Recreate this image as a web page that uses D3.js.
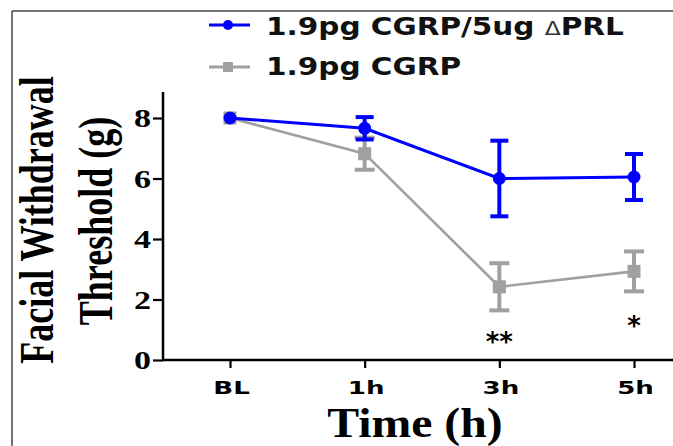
<!DOCTYPE html>
<html><head><meta charset="utf-8">
<script src="https://cdn.jsdelivr.net/npm/d3@7"></script>
<style>html,body{margin:0;padding:0;background:#fff;}svg{display:block;}</style>
</head><body>
<script>
const categories = ["BL", "1h", "3h", "5h"];
const prlMeans = [8.0, 7.66, 6.0, 6.05];
const prlErrors = [0, 0.37, 1.25, 0.76];
const cgrpMeans = [8.0, 6.82, 2.42, 2.93];
const cgrpErrors = [0, 0.53, 0.78, 0.66];
const yTicks = [0, 2, 4, 6, 8];
const seriesNames = [["1.9pg CGRP/5ug ", "\u0394", "PRL"], ["1.9pg CGRP"]];
const annotations = [{cat: "3h", label: "**", value: 0.73}, {cat: "5h", label: "*", value: 1.26}];

const W = 673, H = 446;
const svg = d3.select("body").append("svg").attr("width", W).attr("height", H);

// frame
svg.append("line").attr("x1", 12).attr("x2", W).attr("y1", 11).attr("y2", 11).attr("stroke", "#444").attr("stroke-width", 1.5);
svg.append("line").attr("x1", 12).attr("x2", 12).attr("y1", 11).attr("y2", H).attr("stroke", "#444").attr("stroke-width", 1.5);

const y = d3.scaleLinear().domain([0, 8]).range([360, 118]);
const x = d3.scalePoint().domain(categories).range([230, 634]);
const axisX0 = 163, axisXEnd = W, yTop = 8.86;

// y axis
const gy = svg.append("g").attr("transform", `translate(${axisX0},0)`)
  .call(d3.axisLeft(y).tickValues(yTicks).tickSize(10).tickFormat(d3.format("d")));
gy.select(".domain").remove();
gy.selectAll(".tick line").attr("stroke", "#000").attr("stroke-width", 2.2);
gy.selectAll(".tick text")
  .attr("x", null).attr("dy", null)
  .attr("transform", "translate(-12,8.5) scale(1.36,1)")
  .attr("text-anchor", "end")
  .style("font-family", "'Liberation Serif','Times New Roman',serif")
  .style("font-weight", "bold").style("font-size", "25px").attr("fill", "#000");
svg.append("line").attr("x1", axisX0).attr("x2", axisX0).attr("y1", y(0) + 1).attr("y2", y(yTop))
  .attr("stroke", "#000").attr("stroke-width", 2.5);

// x axis
const gx = svg.append("g").attr("transform", `translate(0,${y(0)})`)
  .call(d3.axisBottom(x).tickSize(8));
gx.select(".domain").remove();
gx.selectAll(".tick line").attr("stroke", "#000").attr("stroke-width", 2.2);
gx.selectAll(".tick text")
  .attr("y", null).attr("dy", null)
  .attr("transform", "translate(1,34) scale(1.45,1)")
  .attr("text-anchor", "middle")
  .style("font-family", "'DejaVu Sans',Verdana,sans-serif")
  .style("font-weight", "bold").style("font-size", "18px").attr("fill", "#000");
svg.append("line").attr("x1", axisX0 - 1).attr("x2", axisXEnd).attr("y1", y(0)).attr("y2", y(0))
  .attr("stroke", "#000").attr("stroke-width", 2.5);

// axis titles
svg.append("text").attr("transform", "translate(415,437) scale(1.11,1)")
  .attr("text-anchor", "middle")
  .style("font-family", "'Liberation Serif','Times New Roman',serif")
  .style("font-weight", "bold").style("font-size", "43px").text("Time (h)");
[["Facial Withdrawal", 53, 220], ["Threshold (g)", 112, 221]].forEach(([t, bx, cy]) => {
  svg.append("text").attr("transform", `translate(${bx},${cy}) scale(1.36,1) rotate(-90)`)
    .attr("text-anchor", "middle")
    .style("font-family", "'Liberation Serif','Times New Roman',serif")
    .style("font-weight", "bold").style("font-size", "36px").text(t);
});

function drawSeries(means, errs, color, lw, ew, capW, marker) {
  const g = svg.append("g");
  const line = d3.line().x((d, i) => x(categories[i])).y(d => y(d));
  g.append("path").datum(means).attr("d", line).attr("fill", "none")
    .attr("stroke", color).attr("stroke-width", lw);
  means.forEach((m, i) => {
    const e = errs[i];
    if (e > 0) {
      const cx = x(categories[i]);
      g.append("line").attr("x1", cx).attr("x2", cx).attr("y1", y(m + e)).attr("y2", y(m - e))
        .attr("stroke", color).attr("stroke-width", ew);
      [m + e, m - e].forEach(v => {
        g.append("line").attr("x1", cx - capW / 2).attr("x2", cx + capW / 2).attr("y1", y(v)).attr("y2", y(v))
          .attr("stroke", color).attr("stroke-width", ew);
      });
    }
  });
  means.forEach((m, i) => {
    const cx = x(categories[i]);
    if (marker === "circle") {
      g.append("circle").attr("cx", cx).attr("cy", y(m)).attr("r", 6.5).attr("fill", color);
    } else {
      g.append("rect").attr("x", cx - 6.5).attr("y", y(m) - 6.5).attr("width", 13).attr("height", 13).attr("fill", color);
    }
  });
}
drawSeries(cgrpMeans, cgrpErrors, "#a0a0a0", 2.6, 4, 20, "square");
drawSeries(prlMeans, prlErrors, "#0000ff", 3, 4, 18, "circle");

// significance marks
annotations.forEach(a => {
  svg.append("text").attr("x", x(a.cat)).attr("y", y(a.value) + 13)
    .attr("text-anchor", "middle")
    .style("font-family", "'DejaVu Sans',Verdana,sans-serif")
    .style("font-weight", "bold").style("font-size", "26px").text(a.label);
});

// legend
const legend = [
  {name: seriesNames[0], color: "#0000ff", marker: "circle", ly: 25, by: 35},
  {name: seriesNames[1], color: "#a0a0a0", marker: "square", ly: 67, by: 75}
];
legend.forEach(l => {
  svg.append("line").attr("x1", 209).attr("x2", 250).attr("y1", l.ly).attr("y2", l.ly)
    .attr("stroke", l.color).attr("stroke-width", 3);
  if (l.marker === "circle") svg.append("circle").attr("cx", 228).attr("cy", l.ly).attr("r", 5).attr("fill", l.color);
  else svg.append("rect").attr("x", 223).attr("y", l.ly - 5).attr("width", 10).attr("height", 10).attr("fill", l.color);
  const t = svg.append("text").attr("transform", `translate(266,${l.by}) scale(1.23,1)`)
    .style("font-family", "'DejaVu Sans',Verdana,sans-serif")
    .style("font-weight", "bold").style("font-size", "24px").attr("fill", "#111");
  l.name.forEach((part, i) => {
    const ts = t.append("tspan").text(part);
    if (i === 1) ts.style("font-weight", "normal").style("font-size", "19px").attr("fill", "#333");
  });
});
</script>
</body></html>
